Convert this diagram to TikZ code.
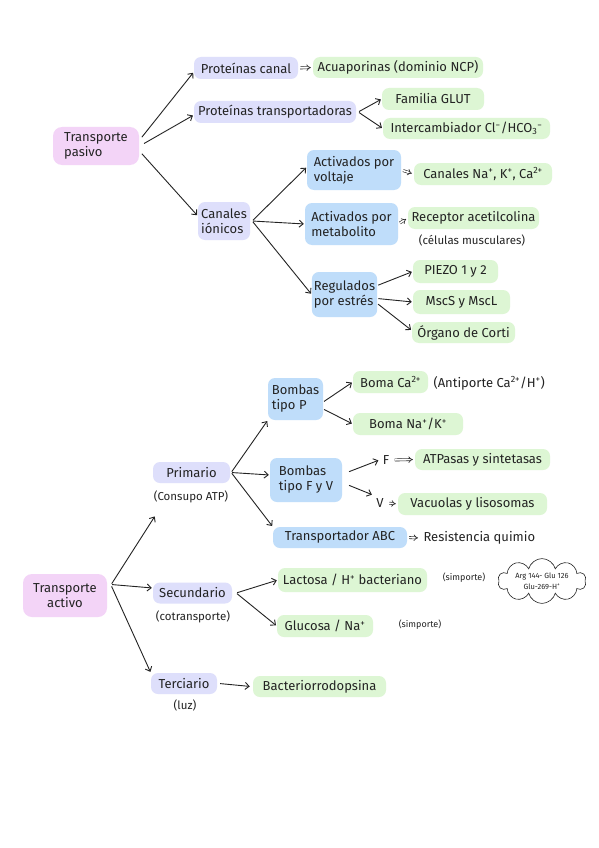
\documentclass[tikz,border=0pt]{standalone}
\usepackage{fontspec}
\setmainfont{Fira Sans}
\usetikzlibrary{arrows.meta,shapes.symbols}
\definecolor{cpink}{RGB}{243,212,247}
\definecolor{clav}{RGB}{222,223,251}
\definecolor{cblue}{RGB}{191,221,250}
\definecolor{cgreen}{RGB}{221,246,212}
\definecolor{ink}{RGB}{35,35,35}
\begin{document}
\begin{tikzpicture}[x=1pt,y=-1pt,
  base/.style={rounded corners=7pt, inner sep=2pt, align=center, text=ink, font=\fontsize{13}{15}\selectfont},
  pinkbox/.style={base, fill=cpink, rounded corners=9pt},
  lavbox/.style={base, fill=clav},
  bluebox/.style={base, fill=cblue, align=left},
  greenbox/.style={base, fill=cgreen},
  lbl/.style={align=center, text=ink, font=\fontsize{11.5}{13}\selectfont},
  plain/.style={align=center, text=ink, font=\fontsize{13}{14}\selectfont},
  small/.style={text=ink, font=\fontsize{9}{10}\selectfont},
  arr/.style={draw=ink, line width=0.9pt, shorten <=1pt, shorten >=1pt, -{Straight Barb[length=4pt,width=7pt]}},
  imp/.style={draw=ink, double, double distance=1.6pt, line width=0.6pt, shorten <=2pt, shorten >=2pt, -{Implies}}
]
\fill[white] (0,0) rectangle (599,848);
\useasboundingbox (0,0) rectangle (599,848);

% ---------- Transporte pasivo ----------
\node[pinkbox, align=left, minimum width=86, minimum height=38] (tp) at (96,146) {Transporte\\pasivo};
\node[lavbox, minimum width=104, minimum height=22] (pc) at (246,68) {Proteínas canal};
\node[greenbox, minimum width=170, minimum height=21] (acua) at (398,67.5) {Acuaporinas (dominio NCP)};
\node[lavbox, minimum width=162, minimum height=22] (pt) at (275,112) {Proteínas transportadoras};
\node[greenbox, minimum width=102, minimum height=22] (glut) at (433,99) {Familia GLUT};
\node[greenbox, minimum width=167, minimum height=21] (inter) at (466.5,128.5) {Intercambiador Cl\textsuperscript{−}/HCO\textsubscript{3}\textsuperscript{−}};
\node[lavbox, align=left, minimum width=52, minimum height=38] (ci) at (224,221) {Canales\\iónicos};
\node[bluebox, minimum width=94, minimum height=40] (av) at (354,170) {Activados por\\voltaje};
\node[greenbox, minimum width=138, minimum height=22] (cna) at (483,174) {Canales Na\textsuperscript{+}, K\textsuperscript{+}, Ca\textsuperscript{2+}};
\node[bluebox, minimum width=93, minimum height=42] (am) at (351.5,224) {Activados por\\metabolito};
\node[greenbox, minimum width=131, minimum height=22] (rec) at (473.5,218) {Receptor acetilcolina};
\node[lbl] (recl) at (472,240) {(células musculares)};
\node[bluebox, minimum width=65, minimum height=45] (re) at (344.5,294.5) {Regulados\\por estrés};
\node[greenbox, minimum width=85, minimum height=23] (piezo) at (455.5,271.5) {PIEZO 1 y 2};
\node[greenbox, minimum width=97, minimum height=24] (msc) at (461.5,302) {MscS y MscL};
\node[greenbox, minimum width=103, minimum height=21] (org) at (463.5,332.5) {Órgano de Corti};

\draw[arr] ([xshift=2,yshift=8]tp.east) -- ([yshift=-4]pc.west);
\draw[arr] ([xshift=4,yshift=2]tp.east) -- ([yshift=-3]pt.west);
\draw[arr] ([xshift=2,yshift=-7]tp.east) -- ([yshift=5]ci.west);
\draw[imp] (pc.east) -- (acua.west);
\draw[arr] ([xshift=2]pt.east) -- (glut.west);
\draw[arr] ([xshift=2]pt.east) -- (inter.west);
\draw[arr] ([xshift=2]ci.east) -- ([yshift=3]av.west);
\draw[arr] ([xshift=2]ci.east) -- (am.west);
\draw[arr] ([xshift=2]ci.east) -- (re.west);
\draw[imp] (av.east) -- (cna.west);
\draw[imp] (am.east) -- (rec.west);
\draw[arr] ([yshift=9]re.east) -- (piezo.west);
\draw[arr] ([yshift=-4]re.east) -- (msc.west);
\draw[arr] ([yshift=-9]re.east) -- ([yshift=2]org.west);

% ---------- Transporte activo ----------
\node[pinkbox, minimum width=84, minimum height=43] (ta) at (65,595.5) {Transporte\\activo};
\node[lavbox, minimum width=77, minimum height=21] (pri) at (191.5,472.5) {Primario};
\node[lbl] (pril) at (191,497) {(Consupo ATP)};
\node[lavbox, minimum width=79, minimum height=21] (sec) at (192.5,593) {Secundario};
\node[lbl] (secl) at (193,617) {(cotransporte)};
\node[lavbox, minimum width=66, minimum height=21] (ter) at (184,683.5) {Terciario};
\node[lbl] (terl) at (185,705) {(luz)};
\node[greenbox, minimum width=133, minimum height=21] (bac) at (319.5,686.5) {Bacteriorrodopsina};
\node[bluebox, minimum width=55, minimum height=42] (btp) at (295.5,399) {Bombas\\tipo P};
\node[greenbox, minimum width=75, minimum height=22] (bca) at (390.5,382) {Boma Ca\textsuperscript{2+}};
\node[plain, anchor=west] (anti) at (430,383) {(Antiporte Ca\textsuperscript{2+}/H\textsuperscript{+})};
\node[greenbox, minimum width=110, minimum height=22] (bna) at (408,424) {Boma Na\textsuperscript{+}/K\textsuperscript{+}};
\node[bluebox, minimum width=72, minimum height=44] (bfv) at (306,480) {Bombas\\tipo F y V};
\node[plain] (f) at (386,460) {F};
\node[greenbox, minimum width=135, minimum height=21] (atp) at (482.5,459.5) {ATPasas y sintetasas};
\node[plain] (v) at (380,503) {V};
\node[greenbox, minimum width=149, minimum height=22] (vac) at (472.5,504) {Vacuolas y lisosomas};
\node[bluebox, minimum width=134, minimum height=21, align=center] (abc) at (340,537.5) {Transportador ABC};
\node[plain, anchor=west] (res) at (420,538) {Resistencia quimio};
\node[greenbox, minimum width=149, minimum height=24] (lac) at (352.5,580) {Lactosa / H\textsuperscript{+} bacteriano};
\node[small] (s1) at (464,578) {(simporte)};
\node[greenbox, minimum width=96, minimum height=22] (glu) at (325,626) {Glucosa / Na\textsuperscript{+}};
\node[small] (s2) at (420,625) {(simporte)};
\node[cloud, draw=ink, line width=0.6pt, cloud puffs=10, aspect=2.2, minimum width=88, minimum height=44, inner sep=-3pt, align=center, text=ink, font=\fontsize{7.5}{11}\selectfont] (cl) at (542,581) {Arg 144- Glu 126\\Glu-269-H\textsuperscript{+}};

\draw[arr] ([xshift=4,yshift=11]ta.east) -- ([xshift=5,yshift=-9]pril.south west);
\draw[arr] ([xshift=4,yshift=11]ta.east) -- ([yshift=5]sec.west);
\draw[arr] ([xshift=4,yshift=10]ta.east) -- (ter.north west);
\draw[arr] ([xshift=1]pri.east) -- (btp.south west);
\draw[arr] ([xshift=1]pri.east) -- ([yshift=5]bfv.west);
\draw[arr] ([xshift=1]pri.east) -- (abc.north west);
\draw[arr] ([yshift=-3]btp.east) -- (bca.west);
\draw[arr] ([yshift=-10]btp.east) -- (bna.west);
\draw[arr] ([xshift=6,yshift=8]bfv.east) -- (f.west);
\draw[arr] ([xshift=6,yshift=-5]bfv.east) -- (v.north west);
\draw[imp] (f.east) -- (atp.west);
\draw[imp] (v.east) -- (vac.west);
\draw[imp] (abc.east) -- (res.west);
\draw[arr] ([xshift=4]sec.east) -- (lac.west);
\draw[arr] ([xshift=4]sec.east) -- (glu.west);
\draw[arr] ([xshift=2]ter.east) -- ([xshift=-2]bac.west);
\end{tikzpicture}
\end{document}
